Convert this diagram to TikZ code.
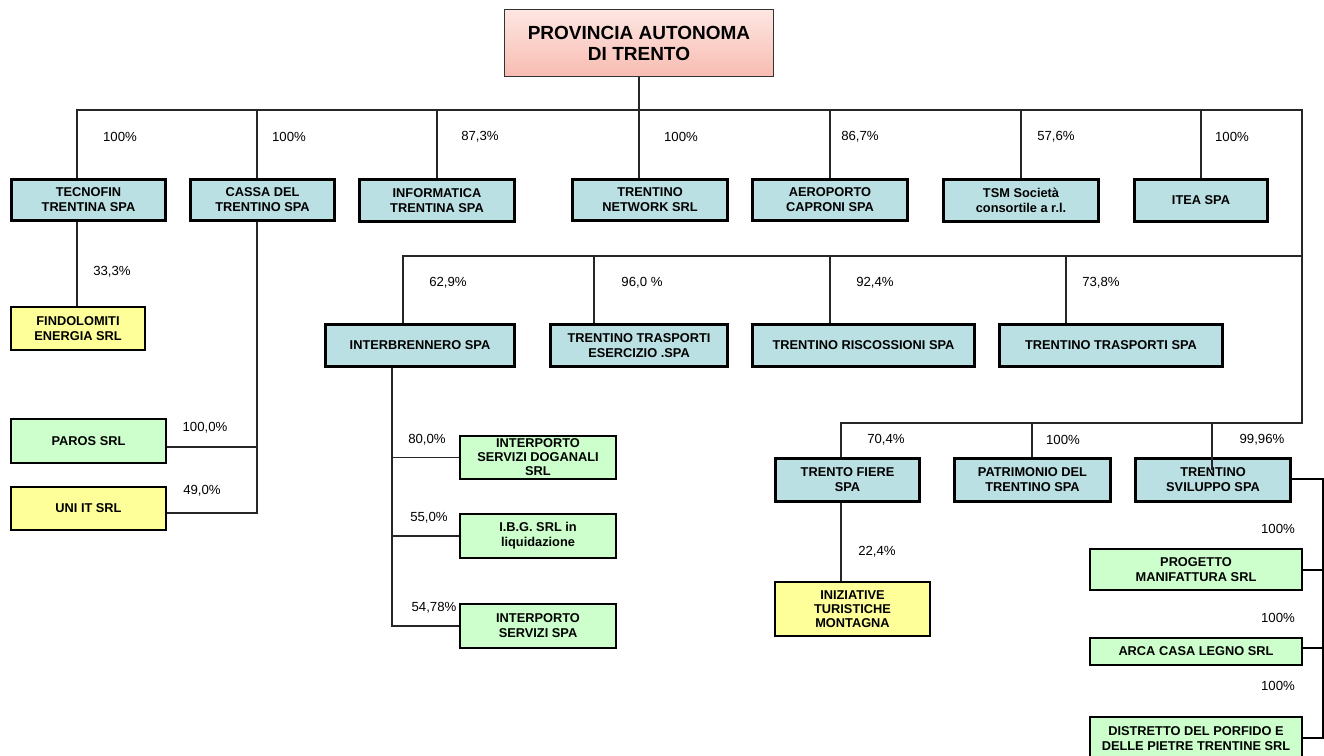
\documentclass[tikz,border=0pt]{standalone}
\usepackage{fontspec}
\setmainfont{Liberation Sans}
\newcommand\bxf{\bfseries\fontsize{12.8}{15}\selectfont}
\newcommand\bxtf{\bfseries\fontsize{12.8}{14}\selectfont}
\newcommand\pcf{\fontsize{13.2}{15}\selectfont}
\newcommand\topf{\bfseries\fontsize{19}{21}\selectfont}
\definecolor{boxblue}{RGB}{187,224,227}
\definecolor{boxgreen}{RGB}{204,255,204}
\definecolor{boxyellow}{RGB}{255,255,153}
\definecolor{pinktop}{RGB}{253,230,226}
\definecolor{pinkbot}{RGB}{248,188,178}
\tikzset{
  base/.style={draw=black, inner sep=0pt, align=center, font=\bxf},
  bluebox/.style={base, fill=boxblue, line width=2.6pt},
  greenbox/.style={base, fill=boxgreen, line width=1.8pt},
  yellowbox/.style={base, fill=boxyellow, line width=1.8pt},
  tightfont/.style={font=\bxtf},
  topbox/.style={draw=black!80, line width=1pt, inner sep=0pt, align=center, font=\topf, top color=pinktop, bottom color=pinkbot},
  conn/.style={draw=black!85, line width=1.3pt},
  thickconn/.style={draw=black, line width=2.2pt},
  pct/.style={font=\pcf, inner sep=0pt}
}
\begin{document}
\begin{tikzpicture}[x=1pt,y=-1pt]
\useasboundingbox[fill=white] (0,0) rectangle (1324,755);
% top
\node[topbox, minimum width=269, minimum height=67] (pat) at (639,43) {PROVINCIA AUTONOMA\\DI TRENTO};
% level 1
\node[bluebox, minimum width=154.4, minimum height=41.4] (tecnofin) at (88.5,200) {TECNOFIN\\TRENTINA SPA};
\node[bluebox, minimum width=144.4, minimum height=41.4] (cassa) at (262.5,200) {CASSA DEL\\TRENTINO SPA};
\node[bluebox, minimum width=155.4, minimum height=42.4] (info) at (437,200.5) {INFORMATICA\\TRENTINA SPA};
\node[bluebox, minimum width=155.4, minimum height=41.4] (network) at (650,200) {TRENTINO\\NETWORK SRL};
\node[bluebox, minimum width=155.4, minimum height=41.4] (aero) at (830,200) {AEROPORTO\\CAPRONI SPA};
\node[bluebox, minimum width=155.4, minimum height=42.4] (tsm) at (1021,200.5) {TSM Società\\consortile a r.l.};
\node[bluebox, minimum width=133.4, minimum height=42.4] (itea) at (1201,200.5) {ITEA SPA};
% level 2
\node[bluebox, minimum width=189.4, minimum height=42.4] (interb) at (420,345.5) {INTERBRENNERO SPA};
\node[bluebox, minimum width=177.4, minimum height=42.4] (tte) at (639,345.5) {TRENTINO TRASPORTI\\ESERCIZIO .SPA};
\node[bluebox, minimum width=222.4, minimum height=42.4] (risc) at (863.5,345.5) {TRENTINO RISCOSSIONI SPA};
\node[bluebox, minimum width=223.4, minimum height=42.4] (trasp) at (1111,345.5) {TRENTINO TRASPORTI SPA};
% level 3
\node[bluebox, minimum width=144.4, minimum height=43.4] (fiere) at (847.5,480) {TRENTO FIERE\\SPA};
\node[bluebox, minimum width=156.4, minimum height=43.4] (patr) at (1032.5,480) {PATRIMONIO DEL\\TRENTINO SPA};
\node[bluebox, minimum width=155.4, minimum height=43.4] (svil) at (1213,480) {TRENTINO\\SVILUPPO SPA};
% left column
\node[yellowbox, minimum width=134.2, minimum height=43.2] (findol) at (78,328.5) {FINDOLOMITI\\ENERGIA SRL};
\node[greenbox, minimum width=155.2, minimum height=44.2] (paros) at (88.5,441) {PAROS SRL};
\node[yellowbox, minimum width=155.2, minimum height=43.2] (uniit) at (88.5,508.5) {UNI IT SRL};
% interbrennero children
\node[greenbox, tightfont, minimum width=156.2, minimum height=43.2] (isd) at (538,457.5) {INTERPORTO\\SERVIZI DOGANALI\\SRL};
\node[greenbox, minimum width=156.2, minimum height=44.2] (ibg) at (538,536) {I.B.G. SRL in\\liquidazione};
\node[greenbox, minimum width=156.2, minimum height=44.2] (isspa) at (538,626) {INTERPORTO\\SERVIZI SPA};
% fiere child
\node[yellowbox, tightfont, minimum width=155.2, minimum height=54.2] (inizi) at (852.5,609) {INIZIATIVE\\TURISTICHE\\MONTAGNA};
% sviluppo children
\node[greenbox, minimum width=212.2, minimum height=41.2] (prog) at (1196,569.5) {PROGETTO\\MANIFATTURA SRL};
\node[greenbox, minimum width=212.2, minimum height=27.2] (arca) at (1196,651.5) {ARCA CASA LEGNO SRL};
\node[greenbox, minimum width=212.2, minimum height=44.2] (distr) at (1196,739) {DISTRETTO DEL PORFIDO E\\DELLE PIETRE TRENTINE SRL};

% bus coordinates
\coordinate (b1L) at (77,110);
\coordinate (b1R) at (1302,110);
\coordinate (b2L) at (403,256);
\coordinate (b2R) at (1302,256);
\coordinate (b3L) at (841,423);
\coordinate (b3R) at (1302,423);
\coordinate (sR) at (1323,479);
\coordinate (cB) at (257,513);
\coordinate (iB) at (392,626);

% connectors
\draw[conn] (pat.south) -- (pat.south |- network.north);
\draw[conn] (tecnofin.north -| b1L) -- (b1L) -- (b1R) -- (b3R) -- (b3L) -- (b3L |- fiere.north);
\draw[conn] (interb.north -| b2L) -- (b2L) -- (b2R);
\foreach \n/\x in {cassa/257, info/437, aero/830, tsm/1021, itea/1201}
  \draw[conn] (\x,110) -- (\n.north -| \x,0);
\foreach \n/\x in {tte/594, risc/830, trasp/1066}
  \draw[conn] (\x,256) -- (\n.north -| \x,0);
\draw[conn] (1032,423) -- (patr.north -| 1032,0);
\draw[conn] (1212,423) -- (1212,470);
\draw[conn] (tecnofin.south -| b1L) -- (findol.north -| b1L);
\draw[conn] (cassa.south -| cB) -- (cB) -- (uniit.east |- cB);
\draw[conn] (paros.east |- 0,447) -- (257,447);
\draw[conn] (interb.south -| iB) -- (iB) -- (isspa.west |- iB);
\draw[conn] (isd.west -| iB) -- (isd.west);
\draw[conn] (ibg.west -| iB) -- (ibg.west);
\draw[conn] (fiere.south -| b3L) -- (inizi.north -| b3L);
\draw[thickconn] (svil.east |- sR) -- (sR) -- (1323,738) -- (distr.east |- 0,738);
\draw[thickconn] (prog.east |- 0,570) -- (1323,570);
\draw[thickconn] (arca.east |- 0,648) -- (1323,648);

% percentages
\node[pct] (p1) at (120,137) {100\%};
\node[pct] (p2) at (289,137) {100\%};
\node[pct] (p3) at (480,137) {87,3\%};
\node[pct] (p4) at (681,137) {100\%};
\node[pct] (p5) at (860,137) {86,7\%};
\node[pct] (p6) at (1056,137) {57,6\%};
\node[pct] (p7) at (1232,137) {100\%};
\node[pct] (p8) at (112,272) {33,3\%};
\node[pct] (p9) at (205,428) {100,0\%};
\node[pct] (p10) at (202,491) {49,0\%};
\node[pct] (p11) at (448,283) {62,9\%};
\node[pct] (p12) at (642,283) {96,0 \%};
\node[pct] (p13) at (875,283) {92,4\%};
\node[pct] (p14) at (1101,283) {73,8\%};
\node[pct] (p15) at (427,440) {80,0\%};
\node[pct] (p16) at (429,518) {55,0\%};
\node[pct] (p17) at (434,608) {54,78\%};
\node[pct] (p18) at (886,440) {70,4\%};
\node[pct] (p19) at (1063,440) {100\%};
\node[pct] (p20) at (1262,440) {99,96\%};
\node[pct] (p21) at (877,552) {22,4\%};
\node[pct] (p22) at (1278,529) {100\%};
\node[pct] (p23) at (1278,618) {100\%};
\node[pct] (p24) at (1278,686) {100\%};
\end{tikzpicture}
\end{document}
